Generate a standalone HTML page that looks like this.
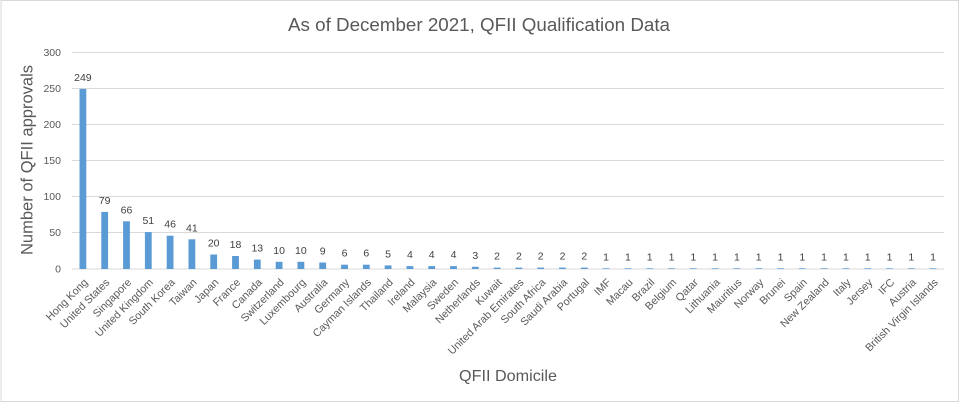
<!DOCTYPE html>
<html><head><meta charset="utf-8"><style>
html,body{margin:0;padding:0;background:#fff;}
svg{display:block;font-family:"Liberation Sans",sans-serif;}
</style></head><body>
<svg width="960" height="404" viewBox="0 0 960 404" xmlns="http://www.w3.org/2000/svg">
<rect x="0" y="0" width="960" height="404" fill="#fff"/>
<rect x="1" y="0.5" width="957.5" height="401" fill="#fff" stroke="#d9d9d9" stroke-width="1"/>
<text x="479" y="31" font-size="18.8" fill="#595959" text-anchor="middle" textLength="382" lengthAdjust="spacingAndGlyphs">As of December 2021, QFII Qualification Data</text>
<g stroke="#d9d9d9" stroke-width="1">
<line x1="72" y1="52.5" x2="944" y2="52.5"/>
<line x1="72" y1="88.5" x2="944" y2="88.5"/>
<line x1="72" y1="124.5" x2="944" y2="124.5"/>
<line x1="72" y1="160.5" x2="944" y2="160.5"/>
<line x1="72" y1="196.5" x2="944" y2="196.5"/>
<line x1="72" y1="232.5" x2="944" y2="232.5"/>
<line x1="72" y1="269" x2="944" y2="269"/>
</g>
<g font-size="10.5" fill="#595959" text-anchor="end">
<text x="61" y="56">300</text>
<text x="61" y="92">250</text>
<text x="61" y="128">200</text>
<text x="61" y="164">150</text>
<text x="61" y="200">100</text>
<text x="61" y="236">50</text>
<text x="61" y="272.5">0</text>
</g>
<text transform="translate(32.5,160) rotate(-90)" font-size="16.5" fill="#595959" text-anchor="middle" textLength="190" lengthAdjust="spacingAndGlyphs">Number of QFII approvals</text>
<text x="508" y="381" font-size="16" fill="#595959" text-anchor="middle" textLength="98" lengthAdjust="spacingAndGlyphs">QFII Domicile</text>
<g fill="#5b9bd5">
<rect x="79.5" y="88.9" width="6.8" height="180.1"/>
<rect x="101.3" y="211.9" width="6.8" height="57.1"/>
<rect x="123.1" y="221.3" width="6.8" height="47.7"/>
<rect x="144.9" y="232.1" width="6.8" height="36.9"/>
<rect x="166.7" y="235.7" width="6.8" height="33.3"/>
<rect x="188.5" y="239.3" width="6.8" height="29.7"/>
<rect x="210.3" y="254.5" width="6.8" height="14.5"/>
<rect x="232.1" y="256.0" width="6.8" height="13.0"/>
<rect x="253.9" y="259.6" width="6.8" height="9.4"/>
<rect x="275.7" y="261.8" width="6.8" height="7.2"/>
<rect x="297.5" y="261.8" width="6.8" height="7.2"/>
<rect x="319.3" y="262.5" width="6.8" height="6.5"/>
<rect x="341.1" y="264.7" width="6.8" height="4.3"/>
<rect x="362.9" y="264.7" width="6.8" height="4.3"/>
<rect x="384.7" y="265.4" width="6.8" height="3.6"/>
<rect x="406.5" y="266.1" width="6.8" height="2.9"/>
<rect x="428.3" y="266.1" width="6.8" height="2.9"/>
<rect x="450.1" y="266.1" width="6.8" height="2.9"/>
<rect x="471.9" y="266.8" width="6.8" height="2.2"/>
<rect x="493.7" y="267.6" width="6.8" height="1.4"/>
<rect x="515.5" y="267.6" width="6.8" height="1.4"/>
<rect x="537.3" y="267.6" width="6.8" height="1.4"/>
<rect x="559.1" y="267.6" width="6.8" height="1.4"/>
<rect x="580.9" y="267.6" width="6.8" height="1.4"/>
<rect x="602.7" y="268.3" width="6.8" height="0.7"/>
<rect x="624.5" y="268.3" width="6.8" height="0.7"/>
<rect x="646.3" y="268.3" width="6.8" height="0.7"/>
<rect x="668.1" y="268.3" width="6.8" height="0.7"/>
<rect x="689.9" y="268.3" width="6.8" height="0.7"/>
<rect x="711.7" y="268.3" width="6.8" height="0.7"/>
<rect x="733.5" y="268.3" width="6.8" height="0.7"/>
<rect x="755.3" y="268.3" width="6.8" height="0.7"/>
<rect x="777.1" y="268.3" width="6.8" height="0.7"/>
<rect x="798.9" y="268.3" width="6.8" height="0.7"/>
<rect x="820.7" y="268.3" width="6.8" height="0.7"/>
<rect x="842.5" y="268.3" width="6.8" height="0.7"/>
<rect x="864.3" y="268.3" width="6.8" height="0.7"/>
<rect x="886.1" y="268.3" width="6.8" height="0.7"/>
<rect x="907.9" y="268.3" width="6.8" height="0.7"/>
<rect x="929.7" y="268.3" width="6.8" height="0.7"/>
</g>
<g font-size="10.5" fill="#404040" text-anchor="middle">
<text x="82.9" y="81">249</text>
<text x="104.7" y="204">79</text>
<text x="126.5" y="213.3">66</text>
<text x="148.3" y="224.1">51</text>
<text x="170.1" y="227.7">46</text>
<text x="191.9" y="231.3">41</text>
<text x="213.7" y="246.5">20</text>
<text x="235.5" y="248">18</text>
<text x="257.3" y="251.6">13</text>
<text x="279.1" y="253.8">10</text>
<text x="300.9" y="253.8">10</text>
<text x="322.7" y="254.5">9</text>
<text x="344.5" y="256.7">6</text>
<text x="366.3" y="256.7">6</text>
<text x="388.1" y="257.4">5</text>
<text x="409.9" y="258.1">4</text>
<text x="431.7" y="258.1">4</text>
<text x="453.5" y="258.1">4</text>
<text x="475.3" y="258.8">3</text>
<text x="497.1" y="259.6">2</text>
<text x="518.9" y="259.6">2</text>
<text x="540.7" y="259.6">2</text>
<text x="562.5" y="259.6">2</text>
<text x="584.3" y="259.6">2</text>
<text x="606.1" y="260.3">1</text>
<text x="627.9" y="260.3">1</text>
<text x="649.7" y="260.3">1</text>
<text x="671.5" y="260.3">1</text>
<text x="693.3" y="260.3">1</text>
<text x="715.1" y="260.3">1</text>
<text x="736.9" y="260.3">1</text>
<text x="758.7" y="260.3">1</text>
<text x="780.5" y="260.3">1</text>
<text x="802.3" y="260.3">1</text>
<text x="824.1" y="260.3">1</text>
<text x="845.9" y="260.3">1</text>
<text x="867.7" y="260.3">1</text>
<text x="889.5" y="260.3">1</text>
<text x="911.3" y="260.3">1</text>
<text x="933.1" y="260.3">1</text>
</g>
<g font-size="10.8" fill="#595959" text-anchor="end">
<text transform="translate(88.4,283) rotate(-45)">Hong Kong</text>
<text transform="translate(110.2,283) rotate(-45)">United States</text>
<text transform="translate(132,283) rotate(-45)">Singapore</text>
<text transform="translate(153.8,283) rotate(-45)">United Kingdom</text>
<text transform="translate(175.6,283) rotate(-45)">South Korea</text>
<text transform="translate(197.4,283) rotate(-45)">Taiwan</text>
<text transform="translate(219.2,283) rotate(-45)">Japan</text>
<text transform="translate(241,283) rotate(-45)">France</text>
<text transform="translate(262.8,283) rotate(-45)">Canada</text>
<text transform="translate(284.6,283) rotate(-45)">Switzerland</text>
<text transform="translate(306.4,283) rotate(-45)">Luxembourg</text>
<text transform="translate(328.2,283) rotate(-45)">Australia</text>
<text transform="translate(350,283) rotate(-45)">Germany</text>
<text transform="translate(371.8,283) rotate(-45)">Cayman Islands</text>
<text transform="translate(393.6,283) rotate(-45)">Thailand</text>
<text transform="translate(415.4,283) rotate(-45)">Ireland</text>
<text transform="translate(437.2,283) rotate(-45)">Malaysia</text>
<text transform="translate(459,283) rotate(-45)">Sweden</text>
<text transform="translate(480.8,283) rotate(-45)">Netherlands</text>
<text transform="translate(502.6,283) rotate(-45)">Kuwait</text>
<text transform="translate(524.4,283) rotate(-45)">United Arab Emirates</text>
<text transform="translate(546.2,283) rotate(-45)">South Africa</text>
<text transform="translate(568,283) rotate(-45)">Saudi Arabia</text>
<text transform="translate(589.8,283) rotate(-45)">Portugal</text>
<text transform="translate(611.6,283) rotate(-45)">IMF</text>
<text transform="translate(633.4,283) rotate(-45)">Macau</text>
<text transform="translate(655.2,283) rotate(-45)">Brazil</text>
<text transform="translate(677,283) rotate(-45)">Belgium</text>
<text transform="translate(698.8,283) rotate(-45)">Qatar</text>
<text transform="translate(720.6,283) rotate(-45)">Lithuania</text>
<text transform="translate(742.4,283) rotate(-45)">Mauritius</text>
<text transform="translate(764.2,283) rotate(-45)">Norway</text>
<text transform="translate(786,283) rotate(-45)">Brunei</text>
<text transform="translate(807.8,283) rotate(-45)">Spain</text>
<text transform="translate(829.6,283) rotate(-45)">New Zealand</text>
<text transform="translate(851.4,283) rotate(-45)">Italy</text>
<text transform="translate(873.2,283) rotate(-45)">Jersey</text>
<text transform="translate(895,283) rotate(-45)">IFC</text>
<text transform="translate(916.8,283) rotate(-45)">Austria</text>
<text transform="translate(938.6,283) rotate(-45)">British Virgin Islands</text>
</g>
</svg>
</body></html>
